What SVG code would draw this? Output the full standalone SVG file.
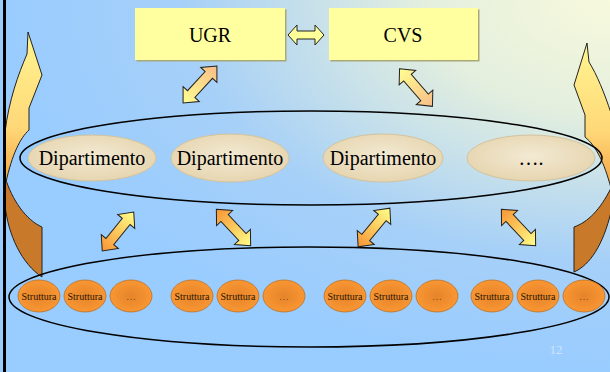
<svg xmlns="http://www.w3.org/2000/svg" width="610" height="372" viewBox="0 0 610 372">
<defs>
<radialGradient id="bg" cx="1" cy="0" r="1" gradientUnits="objectBoundingBox">
<stop offset="0" stop-color="#f7f9dc"/>
<stop offset="0.3" stop-color="#e4efde"/>
<stop offset="0.7" stop-color="#a6d0f8"/>
<stop offset="1" stop-color="#99ccff"/>
</radialGradient>
<radialGradient id="dept" cx="0.5" cy="0.45" r="0.55">
<stop offset="0" stop-color="#f3ead3"/>
<stop offset="1" stop-color="#e6d5b0"/>
</radialGradient>
<radialGradient id="str" cx="0.5" cy="0.5" r="0.55">
<stop offset="0" stop-color="#e5842a"/>
<stop offset="1" stop-color="#fb9834"/>
</radialGradient>
<linearGradient id="gPeach" x1="0" y1="0" x2="1" y2="0">
<stop offset="0" stop-color="#ffff90"/>
<stop offset="1" stop-color="#f8bc88"/>
</linearGradient>
<linearGradient id="gOrange" x1="0" y1="0" x2="1" y2="0">
<stop offset="0" stop-color="#f89434"/>
<stop offset="1" stop-color="#ffff88"/>
</linearGradient>
<linearGradient id="gLeft" x1="0" y1="32" x2="0" y2="190" gradientUnits="userSpaceOnUse">
<stop offset="0" stop-color="#fff590"/>
<stop offset="0.6" stop-color="#ffd878"/>
<stop offset="1" stop-color="#f2a040"/>
</linearGradient>
<linearGradient id="gRight" x1="0" y1="43" x2="0" y2="190" gradientUnits="userSpaceOnUse">
<stop offset="0" stop-color="#fff590"/>
<stop offset="0.6" stop-color="#ffd878"/>
<stop offset="1" stop-color="#f2a040"/>
</linearGradient>
<path id="dbl" d="M -25,0 L -13,-11 L -13,-5 L 13,-5 L 13,-11 L 25,0 L 13,11 L 13,5 L -13,5 L -13,11 Z"/>
</defs>
<style>
.box{fill:#ffffa0;}
.shadow{fill:#a8a878;}
.dept{fill:url(#dept);stroke:#d4c39c;stroke-width:1;}
.str{fill:url(#str);stroke:#b86818;stroke-width:0.7;}
.big{fill:none;stroke:#000;stroke-width:1.5;}
.arrow{stroke:#222;stroke-width:1;stroke-linejoin:miter;}
.back{fill:#c87a2a;stroke:#222;stroke-width:1;}
.t20{font-family:"Liberation Serif","Times New Roman",serif;font-size:20px;fill:#000;text-anchor:middle;}
.t10{font-family:"Liberation Serif","Times New Roman",serif;font-size:10px;fill:#2a1400;text-anchor:middle;}
.dots{font-family:"Liberation Serif","Times New Roman",serif;font-size:10px;fill:#8a4a10;text-anchor:middle;}
</style>
<rect x="0" y="0" width="610" height="372" fill="url(#bg)"/>

<g id="curved-arrows">
<path class="back" d="M 42,227 L 42,277 C 22,264 8,235 5,205 L 5,177 C 12,200 26,220 42,227 Z"/>
<path class="arrow" fill="url(#gLeft)" d="M 28,32 L 42,75 L 29,108 L 29,130 C 20,138 12,155 6,182 L 5,182 L 5,132 C 9,100 18,75 27,54 Z"/>
<path class="back" d="M 574,227 L 574,272 C 590,265 603,245 611,212 L 611,188 C 600,210 588,222 574,227 Z"/>
<path class="arrow" fill="url(#gRight)" d="M 587,43 L 574,85 L 585,115 L 585,137 C 596,146 604,162 611,188 L 611,113 C 604,92 597,75 589,62 Z"/>
</g>

<ellipse class="big" cx="311" cy="158" rx="291" ry="47"/>
<ellipse class="big" cx="309" cy="297" rx="300" ry="50"/>

<g id="UGR">
<rect class="shadow" x="136.5" y="9.5" width="150" height="52"/>
<rect class="box" x="135" y="8" width="150" height="52"/>
<text class="t20" x="210" y="42">UGR</text>
</g>
<g id="CVS">
<rect class="shadow" x="330.5" y="9.5" width="149" height="52"/>
<rect class="box" x="329" y="8" width="149" height="52"/>
<text class="t20" x="403" y="42">CVS</text>
</g>

<g id="dip1"><ellipse class="dept" cx="92" cy="158" rx="64" ry="23"/><text class="t20" x="92" y="165">Dipartimento</text></g>
<g id="dip2"><ellipse class="dept" cx="230" cy="158" rx="59" ry="24"/><text class="t20" x="230" y="165">Dipartimento</text></g>
<g id="dip3"><ellipse class="dept" cx="383" cy="158" rx="60" ry="24"/><text class="t20" x="383" y="165">Dipartimento</text></g>
<g id="dip4"><ellipse class="dept" cx="531" cy="158" rx="64" ry="23"/><text class="t20" x="531" y="165">….</text></g>

<g id="str1"><ellipse class="str" cx="39" cy="296" rx="21" ry="16"/><text class="t10" x="39" y="300">Struttura</text></g>
<g id="str2"><ellipse class="str" cx="85" cy="296" rx="21" ry="16"/><text class="t10" x="85" y="300">Struttura</text></g>
<g id="str3"><ellipse class="str" cx="131" cy="296" rx="21" ry="16"/><text class="dots" x="131" y="300">…</text></g>
<g id="str4"><ellipse class="str" cx="192" cy="296" rx="21" ry="16"/><text class="t10" x="192" y="300">Struttura</text></g>
<g id="str5"><ellipse class="str" cx="238" cy="296" rx="21" ry="16"/><text class="t10" x="238" y="300">Struttura</text></g>
<g id="str6"><ellipse class="str" cx="284" cy="296" rx="21" ry="16"/><text class="dots" x="284" y="300">…</text></g>
<g id="str7"><ellipse class="str" cx="345" cy="296" rx="21" ry="16"/><text class="t10" x="345" y="300">Struttura</text></g>
<g id="str8"><ellipse class="str" cx="391" cy="296" rx="21" ry="16"/><text class="t10" x="391" y="300">Struttura</text></g>
<g id="str9"><ellipse class="str" cx="437" cy="296" rx="21" ry="16"/><text class="dots" x="437" y="300">…</text></g>
<g id="str10"><ellipse class="str" cx="492" cy="296" rx="21" ry="16"/><text class="t10" x="492" y="300">Struttura</text></g>
<g id="str11"><ellipse class="str" cx="538" cy="296" rx="21" ry="16"/><text class="t10" x="538" y="300">Struttura</text></g>
<g id="str12"><ellipse class="str" cx="584" cy="296" rx="21" ry="16"/><text class="dots" x="584" y="300">…</text></g>

<g id="connectors">
<path class="arrow" fill="#ffff99" d="M 288,35 L 297,25 L 297,31 L 315,31 L 315,25 L 324,35 L 315,45 L 315,39 L 297,39 L 297,45 Z"/>
<use href="#dbl" class="arrow" fill="url(#gPeach)" transform="translate(200,84.5) rotate(-47.4)"/>
<use href="#dbl" class="arrow" fill="url(#gPeach)" transform="translate(416,87.5) rotate(48.9)"/>
<use href="#dbl" class="arrow" fill="url(#gOrange)" transform="translate(118,231.5) rotate(-51)"/>
<use href="#dbl" class="arrow" fill="url(#gOrange)" transform="translate(233.5,227.5) rotate(46.7)"/>
<use href="#dbl" class="arrow" fill="url(#gOrange)" transform="translate(374,227.5) rotate(-50.6)"/>
<use href="#dbl" class="arrow" fill="url(#gOrange)" transform="translate(518.5,227.5) rotate(46.7)"/>
</g>

<rect x="3" y="0" width="3" height="372" fill="#000"/>
<text x="556" y="354" style="font-family:'Liberation Serif',serif;font-size:13px;fill:#cfe3fb;text-anchor:middle;">12</text>
</svg>
